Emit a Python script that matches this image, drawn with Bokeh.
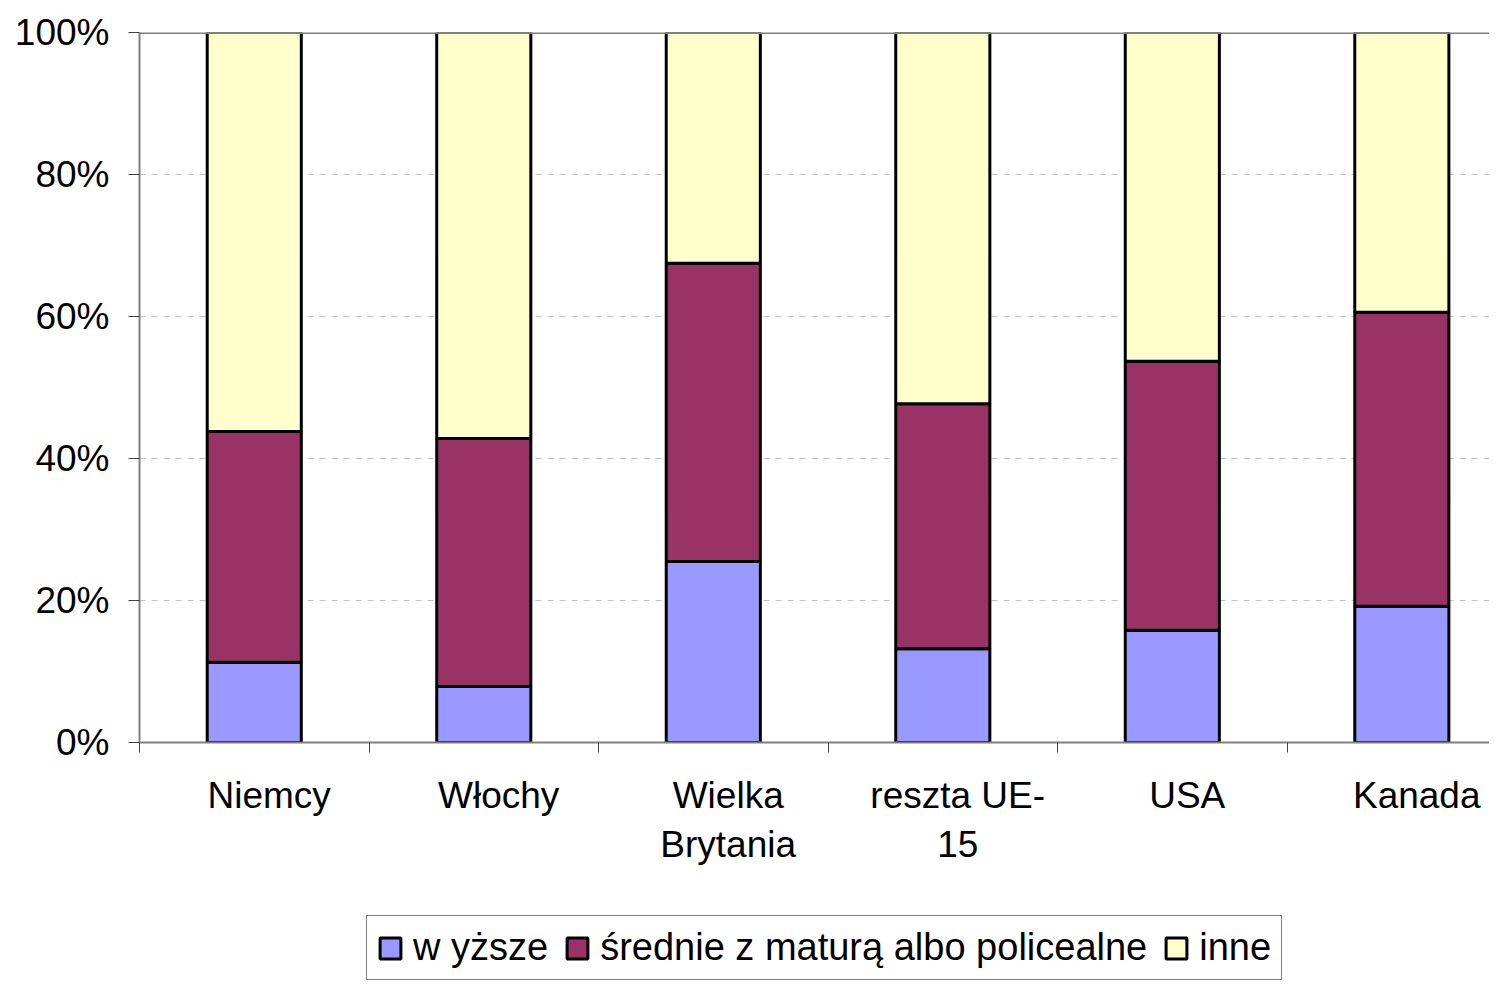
from bokeh.plotting import figure
from bokeh.layouts import column
from bokeh.models import (FixedTicker, PrintfTickFormatter, Range1d, Span, Legend, LegendItem,
                          ColumnDataSource)
from bokeh.embed import file_html
from bokeh.resources import INLINE

categories = ["Niemcy", "Włochy", "Wielka\nBrytania", "reszta UE-\n15", "USA", "Kanada"]
wyzsze = [11.3, 7.9, 25.5, 13.2, 15.8, 19.2]
srednie = [32.5, 34.9, 42.0, 34.5, 37.9, 41.4]
inne = [56.2, 57.2, 32.5, 52.3, 46.3, 39.4]
series_names = ["w yższe", "średnie z maturą albo policealne", "inne"]
colors = ["#9999FF", "#993366", "#FFFFCC"]
y_ticks = [0, 20, 40, 60, 80, 100]

FONT = "Liberation Sans"
n = len(categories)
xs = [i + 0.5 for i in range(n)]

src = ColumnDataSource(dict(x=xs, wyzsze=wyzsze, srednie=srednie, inne=inne))

p = figure(width=1489, height=900, output_backend="svg", toolbar_location=None,
           x_range=Range1d(0, 5.882), y_range=Range1d(0, 100),
           min_border_left=139, min_border_top=32, min_border_bottom=158, min_border_right=0)
p.outline_line_color = None
p.background_fill_color = "white"

renderers = p.vbar_stack(["wyzsze", "srednie", "inne"], x="x", width=0.41, source=src,
                         fill_color=colors, line_color="black", line_width=3)

# y axis
p.yaxis.ticker = FixedTicker(ticks=y_ticks)
p.yaxis.formatter = PrintfTickFormatter(format="%d%%")
p.yaxis.axis_line_color = "#808080"
p.yaxis.axis_line_width = 2
p.yaxis.major_tick_out = 11
p.yaxis.major_tick_in = 0
p.yaxis.minor_tick_out = 0
p.yaxis.minor_tick_in = 0
p.yaxis.major_tick_line_color = "#404040"
p.yaxis.major_label_text_font = FONT
p.yaxis.major_label_text_font_size = "37px"
p.yaxis.major_label_text_color = "black"
p.yaxis.major_label_standoff = 19

# x axis: labels offset from category centers, ticks at category boundaries
label_pos = [x + 0.065 for x in xs]
p.xaxis.ticker = FixedTicker(ticks=label_pos, minor_ticks=list(range(n + 1)))
p.xaxis.major_label_overrides = {pos: lab for pos, lab in zip(label_pos, categories)}
p.xaxis.axis_line_color = "#808080"
p.xaxis.axis_line_width = 2
p.xaxis.major_tick_out = 0
p.xaxis.major_tick_in = 0
p.xaxis.minor_tick_out = 10
p.xaxis.minor_tick_in = 0
p.xaxis.minor_tick_line_color = "#404040"
p.xaxis.major_label_text_font = FONT
p.xaxis.major_label_text_font_size = "37px"
p.xaxis.major_label_text_color = "black"
p.xaxis.major_label_standoff = 22

# grid
p.xgrid.visible = False
p.ygrid.ticker = FixedTicker(ticks=y_ticks[1:-1])
p.ygrid.grid_line_color = "#c0c0c0"
p.ygrid.grid_line_dash = "6 6"
p.ygrid.grid_line_width = 1
p.add_layout(Span(location=y_ticks[-1], dimension="width", line_color="#808080", line_width=3))

# legend in its own strip below the chart
lg = figure(width=1489, height=80, output_backend="svg", toolbar_location=None,
            x_range=Range1d(0, 1), y_range=Range1d(0, 1),
            x_axis_location=None, y_axis_location=None,
            min_border_left=0, min_border_right=0, min_border_top=0, min_border_bottom=0)
lg.outline_line_color = None
lg.xgrid.visible = False
lg.ygrid.visible = False
nan = float("nan")
legend_renderers = [lg.vbar(x=[nan], top=[nan], width=0.1, fill_color=c,
                            line_color="black", line_width=3) for c in colors]

legend = Legend(items=[LegendItem(label=nm, renderers=[r]) for nm, r in zip(series_names, legend_renderers)],
                orientation="horizontal", location=(227, 0),
                label_text_font=FONT, label_text_font_size="38px", label_text_color="black",
                glyph_width=26, glyph_height=26, label_standoff=10, spacing=16,
                padding=10, margin=0, border_line_color="black", border_line_width=1,
                background_fill_color="white", background_fill_alpha=1.0)
lg.add_layout(legend, "center")

open("out.html", "w").write(file_html(column(p, lg, spacing=0), INLINE))
